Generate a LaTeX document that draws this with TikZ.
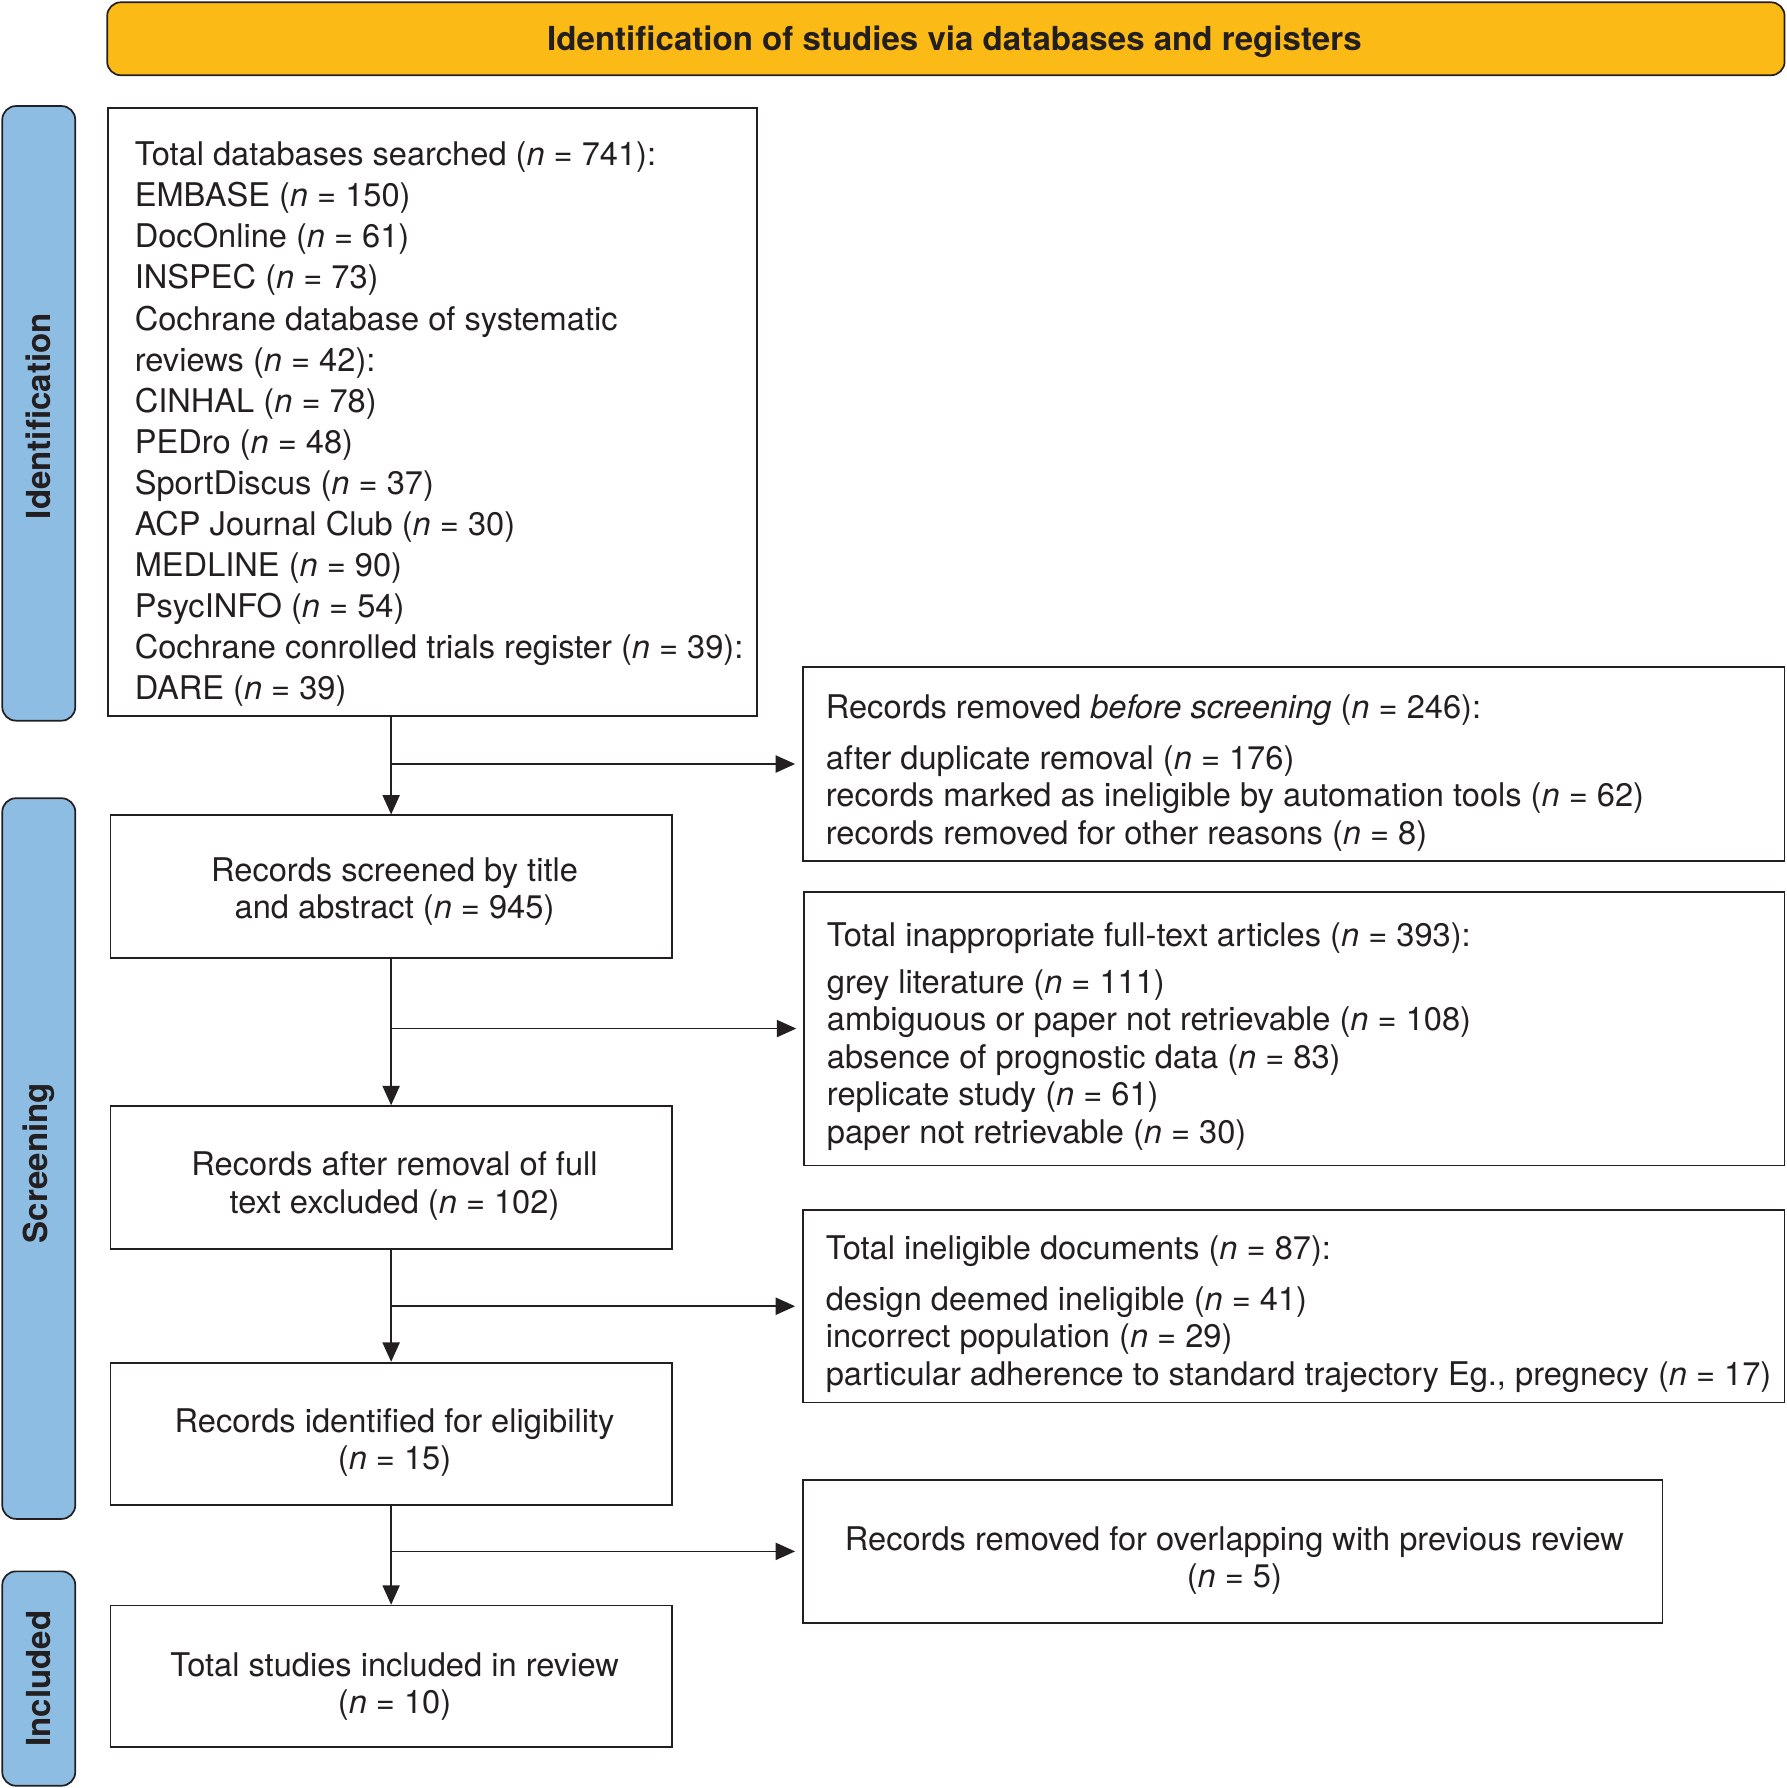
\documentclass[tikz,border=0pt]{standalone}
\usepackage{fontspec}
\setmainfont{TeX Gyre Heros}
\usetikzlibrary{arrows.meta}
\definecolor{ink}{HTML}{231F20}
\definecolor{bannerfill}{HTML}{FBBA16}
\definecolor{sidefill}{HTML}{8EBDE3}
\begin{document}
\begin{tikzpicture}[x=1pt,y=-1pt,
  frame/.style={draw=ink, line width=1.5pt, rectangle, inner sep=0pt},
  banner/.style={draw=ink, fill=bannerfill, rounded corners=12pt, line width=1.5pt, inner sep=0pt},
  side/.style={draw=ink, fill=sidefill, rounded corners=12pt, line width=1.5pt, inner sep=0pt},
  txt/.style={text=ink, font=\fontsize{28.6}{36}\selectfont, inner sep=0pt, align=left},
  ctxt/.style={text=ink, font=\fontsize{28.6}{33}\selectfont, inner sep=0pt, align=center},
  rtxt/.style={text=ink, font=\fontsize{28.6}{33}\selectfont, inner sep=0pt, align=left, anchor=west},
  btxt/.style={text=ink, font=\fontsize{29}{34}\selectfont\bfseries, inner sep=0pt},
  arr/.style={draw=ink, line width=1.5pt, -{Triangle[length=17pt,width=15pt]}}
]
\useasboundingbox (0,0) rectangle (1567,1568);

% banner
\node[banner, minimum width=1471pt, minimum height=64pt] (ban) at (829.5,34) {};
\node[btxt] (bantxt) at (837,36.5) {Identification of studies via databases and registers};

% side bars
\node[side, minimum width=64pt, minimum height=539pt] (sid1) at (34,362.5) {};
\node[btxt, rotate=90] (sid1t) at (34,365) {Identification};
\node[side, minimum width=64pt, minimum height=632pt] (sid2) at (34,1016) {};
\node[btxt, rotate=90] (sid2t) at (34,1020) {Screening};
\node[side, minimum width=64pt, minimum height=188pt] (sid3) at (34,1472) {};
\node[btxt, rotate=90] (sid3t) at (34,1472) {Included};

% left column boxes
\node[frame, minimum width=569pt, minimum height=533pt] (b1) at (379.5,361.5) {};
\node[txt, anchor=west] (b1t) at (118,372) {Total databases searched (\textit{n} = 741):\\
EMBASE (\textit{n} = 150)\\
DocOnline (\textit{n} = 61)\\
INSPEC (\textit{n} = 73)\\
Cochrane database of systematic\\
reviews (\textit{n} = 42):\\
CINHAL (\textit{n} = 78)\\
PEDro (\textit{n} = 48)\\
SportDiscus (\textit{n} = 37)\\
ACP Journal Club (\textit{n} = 30)\\
MEDLINE (\textit{n} = 90)\\
PsycINFO (\textit{n} = 54)\\
Cochrane conrolled trials register (\textit{n} = 39):\\
DARE (\textit{n} = 39)};

\node[frame, minimum width=492pt, minimum height=125pt] (b2) at (343,777.5) {};
\node[ctxt] (b2t) at (346,782) {Records screened by title\\and abstract (\textit{n} = 945)};

\node[frame, minimum width=492pt, minimum height=125pt] (b3) at (343,1032.5) {};
\node[ctxt] (b3t) at (346,1040) {Records after removal of full\\text excluded (\textit{n} = 102)};

\node[frame, minimum width=492pt, minimum height=125pt] (b4) at (343,1257.5) {};
\node[ctxt] (b4t) at (346,1265) {Records identified for eligibility\\(\textit{n} = 15)};

\node[frame, minimum width=492pt, minimum height=124pt] (b5) at (343,1470) {};
\node[ctxt] (b5t) at (346,1479) {Total studies included in review\\(\textit{n} = 10)};

% right column boxes
\node[frame, minimum width=861pt, minimum height=170pt] (ra) at (1134.5,670) {};
\node[rtxt] (rat) at (724,678) {Records removed \textit{before screening} (\textit{n} = 246):\\[11pt]
after duplicate removal (\textit{n} = 176)\\
records marked as ineligible by automation tools (\textit{n} = 62)\\
records removed for other reasons (\textit{n} = 8)};

\node[frame, minimum width=860pt, minimum height=240pt] (rb) at (1135,902) {};
\node[rtxt] (rbt) at (725,909) {Total inappropriate full-text articles (\textit{n} = 393):\\[8pt]
grey literature (\textit{n} = 111)\\
ambiguous or paper not retrievable (\textit{n} = 108)\\
absence of prognostic data (\textit{n} = 83)\\
replicate study (\textit{n} = 61)\\
paper not retrievable (\textit{n} = 30)};

\node[frame, minimum width=861pt, minimum height=169pt] (rc) at (1134.5,1145.5) {};
\node[rtxt] (rct) at (724,1152.5) {Total ineligible documents (\textit{n} = 87):\\[11pt]
design deemed ineligible (\textit{n} = 41)\\
incorrect population (\textit{n} = 29)\\
particular adherence to standard trajectory Eg., pregnecy (\textit{n} = 17)};

\node[frame, minimum width=754pt, minimum height=125pt] (rd) at (1081,1360.5) {};
\node[ctxt] (rdt) at (1082.5,1368.5) {Records removed for overlapping with previous review\\(\textit{n} = 5)};

% connectors
\draw[arr] (b2.north |- b1.south) -- (b2.north);
\draw[arr, shorten >=6pt] (b2.north |- ra.west) -- (ra.west);
\draw[arr] (b2.south) -- (b3.north);
\draw[arr, shorten >=6pt] (b2.south |- rb.west) -- (rb.west);
\draw[arr] (b3.south) -- (b4.north);
\draw[arr, shorten >=6pt] (b3.south |- rc.west) -- (rc.west);
\draw[arr] (b4.south) -- (b5.north);
\draw[arr, shorten >=6pt] (b4.south |- rd.west) -- (rd.west);
\end{tikzpicture}
\end{document}
